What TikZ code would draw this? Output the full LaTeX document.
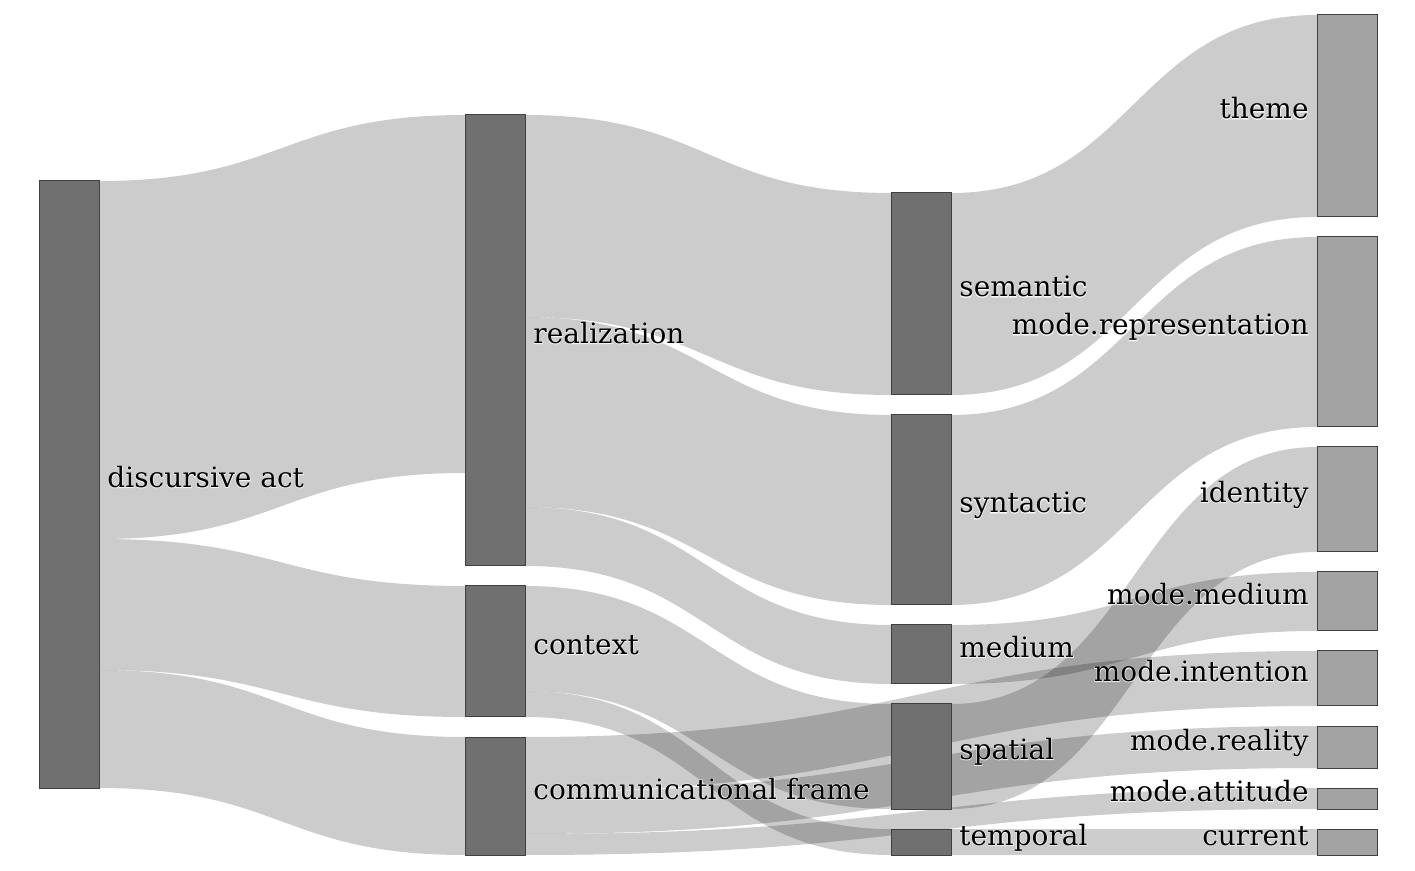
\documentclass[tikz,border=0pt]{standalone}
\usepackage{fontspec}
\setmainfont{DejaVu Serif}
\newfontfamily\halofont[FakeBold=4]{DejaVu Serif}
\usetikzlibrary{calc}
\pgfdeclarelayer{background}
\pgfsetlayers{background,main}

\tikzset{
	stagebox/.style={draw=black!75, line width=0.5pt, inner sep=0pt, outer sep=0pt, minimum width=30pt, anchor=north west},
	midbox/.style={stagebox, fill=black!56},
	endbox/.style={stagebox, fill=black!36},
	band/.style={fill=black, fill opacity=0.2},
	lbl/.style={font=\fontsize{14pt}{16pt}\selectfont, inner sep=0pt},
	halo/.style={font=\halofont\fontsize{14pt}{16pt}\selectfont, inner sep=0pt, text=white, text opacity=0.7}
}

\newcommand{\stage}[5]{\node[#1, minimum height={(#5-#4)*0.5pt}] (#2) at (#3,#4) {};}
\newcommand{\band}[5]{%
	\fill[band] let \p1=($(#1.north east)+(0,#2)$), \p2=($(#3.north west)+(0,#4)$),
		\p3=($(\p1)+(0,#5)$), \p4=($(\p2)+(0,#5)$), \p5=($(\p1)!0.5!(\p2)$) in
		(\p1) .. controls (\x5,\y1) and (\x5,\y2) .. (\p2) -- (\p4)
		.. controls (\x5,\y4) and (\x5,\y3) .. (\p3) -- cycle;}
\newcommand{\glowlabel}[4]{%
	\node[halo, anchor=#3] at (#2) {#4};
	\node[lbl, anchor=#3] (#1) at (#2) {#4};}

\begin{document}
\begin{tikzpicture}[x=0.5pt,y=-0.5pt]
	\useasboundingbox (0,0) rectangle (1415,871);
	% stages
	\stage{midbox}{da}{39}{181}{788}
	\stage{midbox}{re}{465}{115}{566}
	\stage{midbox}{cx}{465}{586}{717}
	\stage{midbox}{cf}{465}{737}{855}
	\stage{midbox}{se}{891}{193}{395}
	\stage{midbox}{sy}{891}{415}{605}
	\stage{midbox}{me}{891}{625}{684}
	\stage{midbox}{sp}{891}{704}{809}
	\stage{midbox}{te}{891}{829}{855}
	\stage{endbox}{th}{1317}{15}{217}
	\stage{endbox}{mr}{1317}{237}{427}
	\stage{endbox}{id}{1317}{447}{552}
	\stage{endbox}{mm}{1317}{572}{631}
	\stage{endbox}{mi}{1317}{651}{706}
	\stage{endbox}{ml}{1317}{726}{768}
	\stage{endbox}{ma}{1317}{788}{809}
	\stage{endbox}{cu}{1317}{829}{855}
	% flows
	\begin{pgfonlayer}{background}
		\band{da}{0}{re}{0}{358}
		\band{da}{358}{cx}{0}{131}
		\band{da}{489}{cf}{0}{118}
		\band{re}{0}{se}{0}{202}
		\band{re}{202}{sy}{0}{190}
		\band{re}{392}{me}{0}{59}
		\band{cx}{0}{sp}{0}{105}
		\band{cx}{105}{te}{0}{26}
		\band{cf}{0}{mi}{0}{55}
		\band{cf}{55}{ml}{0}{42}
		\band{cf}{97}{ma}{0}{21}
		\band{se}{0}{th}{0}{202}
		\band{sy}{0}{mr}{0}{190}
		\band{me}{0}{mm}{0}{59}
		\band{sp}{0}{id}{0}{105}
		\band{te}{0}{cu}{0}{26}
	\end{pgfonlayer}
	% labels
	\glowlabel{lda}{$(da.east)+(4pt,-1.5pt)$}{base west}{discursive act}
	\glowlabel{lre}{$(re.east)+(4pt,-1.5pt)$}{base west}{realization}
	\glowlabel{lcx}{$(cx.east)+(4pt,-1.5pt)$}{base west}{context}
	\glowlabel{lcf}{$(cf.east)+(4pt,-1.5pt)$}{base west}{communicational frame}
	\glowlabel{lse}{$(se.east)+(4pt,-1.5pt)$}{base west}{semantic}
	\glowlabel{lsy}{$(sy.east)+(4pt,-1.5pt)$}{base west}{syntactic}
	\glowlabel{lme}{$(me.east)+(4pt,-1.5pt)$}{base west}{medium}
	\glowlabel{lsp}{$(sp.east)+(4pt,-1.5pt)$}{base west}{spatial}
	\glowlabel{lte}{$(te.east)+(4pt,-1.5pt)$}{base west}{temporal}
	\glowlabel{lth}{$(th.west)+(-4pt,-1.5pt)$}{base east}{theme}
	\glowlabel{lmr}{$(mr.west)+(-4pt,-1.5pt)$}{base east}{mode.representation}
	\glowlabel{lid}{$(id.west)+(-4pt,-1.5pt)$}{base east}{identity}
	\glowlabel{lmm}{$(mm.west)+(-4pt,-1.5pt)$}{base east}{mode.medium}
	\glowlabel{lmi}{$(mi.west)+(-4pt,-1.5pt)$}{base east}{mode.intention}
	\glowlabel{lml}{$(ml.west)+(-4pt,-1.5pt)$}{base east}{mode.reality}
	\glowlabel{lma}{$(ma.west)+(-4pt,-1.5pt)$}{base east}{mode.attitude}
	\glowlabel{lcu}{$(cu.west)+(-4pt,-1.5pt)$}{base east}{current}
\end{tikzpicture}
\end{document}
